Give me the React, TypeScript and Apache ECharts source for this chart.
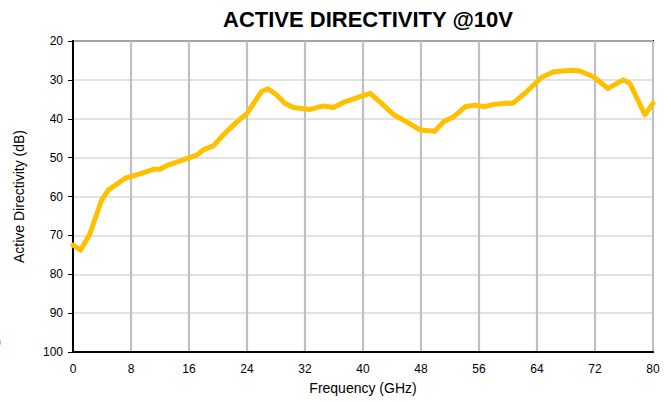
import React, { useEffect, useRef } from "react";
import * as echarts from "echarts";

const titleText = "ACTIVE DIRECTIVITY @10V";
const xName = "Frequency (GHz)";
const yName = "Active Directivity (dB)";

const freq = [0, 1.06, 2.35, 3.95, 4.9, 7.2, 9.2, 11.1, 12.0, 13.1, 15.2, 17.1, 18.0, 19.4, 20.7, 22.6, 24.0, 26.0, 26.9, 28.1, 29.2, 30.4, 32.7, 34.5, 35.9, 37.3, 39.6, 41.0, 42.3, 44.2, 46.0, 47.9, 49.9, 51.1, 52.5, 54.1, 55.4, 56.8, 58.0, 59.8, 60.7, 62.6, 64.6, 66.3, 68.8, 69.9, 71.8, 73.8, 75.9, 76.8, 78.9, 80];
const directivity = [72.5, 73.8, 69.5, 60.9, 58.3, 55.3, 54.2, 53.0, 53.0, 51.9, 50.6, 49.3, 48.0, 46.9, 44.2, 40.8, 38.6, 33.0, 32.3, 33.9, 36.0, 37.1, 37.6, 36.7, 37.1, 35.8, 34.3, 33.5, 35.6, 38.9, 40.8, 42.9, 43.2, 40.8, 39.5, 36.9, 36.5, 36.9, 36.3, 36.0, 36.0, 33.0, 29.4, 27.9, 27.5, 27.7, 29.2, 32.2, 30.0, 30.9, 39.0, 36.0];

export default function App() {
  const ref = useRef<HTMLDivElement>(null);
  useEffect(() => {
    if (!ref.current) return;
    const chart = echarts.init(ref.current, null, { renderer: "svg" });
    const font = "Liberation Sans, Arial, sans-serif";
    chart.setOption({
      animation: false,
      backgroundColor: "#fff",
      title: {
        text: titleText,
        left: 363,
        textAlign: "center",
        top: 3,
        textStyle: { fontFamily: font, fontWeight: "bold", fontSize: 22, color: "#000" },
      },
      grid: {
        left: 73,
        right: 18,
        top: 41,
        bottom: 50,
        show: true,
        borderColor: "#000",
        borderWidth: 2,
        backgroundColor: "transparent",
      },
      xAxis: {
        type: "value",
        min: 0,
        max: 80,
        interval: 8,
        name: xName,
        nameLocation: "middle",
        nameGap: 29,
        nameTextStyle: { fontFamily: font, fontSize: 14, color: "#000" },
        axisLine: { show: true, lineStyle: { color: "#000", width: 2 } },
        axisTick: { show: false },
        axisLabel: { fontFamily: font, fontSize: 12, color: "#000", margin: 11 },
        splitLine: { show: true, lineStyle: { color: "#c0c0c0", width: 2.2 } },
      },
      yAxis: {
        type: "value",
        inverse: true,
        min: 20,
        max: 100,
        interval: 10,
        name: yName,
        nameLocation: "middle",
        nameGap: 47,
        nameTextStyle: { fontFamily: font, fontSize: 14, color: "#000" },
        axisLine: { show: true, lineStyle: { color: "#000", width: 2 } },
        axisTick: { show: true, inside: false, length: 5, lineStyle: { color: "#000", width: 1 } },
        axisLabel: { fontFamily: font, fontSize: 12, color: "#000", margin: 10 },
        splitLine: { show: true, lineStyle: { color: "#d9d9d9", width: 1.5 } },
      },
      graphic: [
        {
          type: "text",
          left: -6,
          top: 337,
          style: { text: "0", fontFamily: font, fontSize: 12, fill: "#000" },
        },
      ],
      series: [
        {
          type: "line",
          data: freq.map((f, i) => [f, directivity[i]]),
          showSymbol: false,
          smooth: false,
          lineStyle: { color: "#FFC000", width: 5, join: "round", cap: "round" },
          clip: false,
          z: 5,
        },
      ],
    });
    return () => chart.dispose();
  }, []);
  return <div ref={ref} style={{ width: 671, height: 402, position: "absolute", left: 0, top: 0 }} />;
}
